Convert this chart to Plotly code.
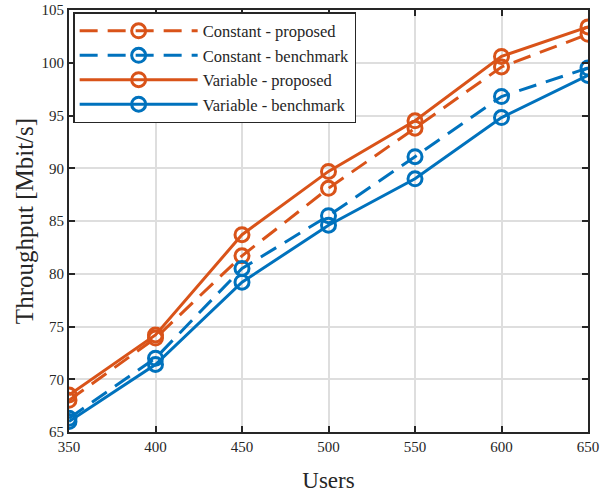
import plotly.graph_objects as go

users = [350, 400, 450, 500, 550, 600, 650]
const_proposed = [68.0, 73.9, 81.7, 88.1, 93.8, 99.6, 102.7]
const_benchmark = [66.3, 72.0, 80.5, 85.5, 91.1, 96.8, 99.5]
var_proposed = [68.5, 74.2, 83.7, 89.7, 94.5, 100.6, 103.4]
var_benchmark = [66.0, 71.4, 79.2, 84.6, 89.0, 94.8, 98.8]

ORANGE = "#D95319"
BLUE = "#0072BD"
FONT = "Liberation Serif"
INK = "#262626"

series = [
    ("Constant - proposed", const_proposed, ORANGE, "dash"),
    ("Constant - benchmark", const_benchmark, BLUE, "dash"),
    ("Variable - proposed", var_proposed, ORANGE, "solid"),
    ("Variable - benchmark", var_benchmark, BLUE, "solid"),
]

fig = go.Figure()
for name, vals, color, dash in series:
    fig.add_trace(go.Scatter(
        x=users, y=vals, name=name, mode="lines+markers",
        line=dict(color=color, width=3, dash="18px,10px" if dash == "dash" else "solid"),
        marker=dict(symbol="circle-open", size=14, color=color, line=dict(width=3, color=color)),
    ))

axis_common = dict(
    showgrid=True, gridcolor="#DEDEDE", gridwidth=1.5,
    showline=True, linecolor=INK, linewidth=2, mirror="ticks",
    ticks="inside", ticklen=6, tickwidth=1.5, tickcolor=INK,
    zeroline=False, automargin=False,
    tickfont=dict(family=FONT, size=15, color=INK),
)

fig.update_xaxes(range=[350, 650], tickvals=users,
                 title=dict(text="Users", font=dict(family=FONT, size=23, color=INK), standoff=20),
                 **axis_common)
fig.update_yaxes(range=[65, 105], dtick=5,
                 title=dict(text="Throughput [Mbit/s]", font=dict(family=FONT, size=25, color=INK), standoff=1),
                 **axis_common)

fig.update_layout(
    width=611, height=493,
    margin=dict(l=69, r=23, t=10, b=61),
    plot_bgcolor="white", paper_bgcolor="white",
    legend=dict(
        x=0.008, y=0.995, xanchor="left", yanchor="top",
        bgcolor="white", bordercolor=INK, borderwidth=1.5,
        font=dict(family=FONT, size=16.5, color=INK),
        tracegroupgap=0, itemwidth=118,
    ),
)

fig.write_html("out.html")
